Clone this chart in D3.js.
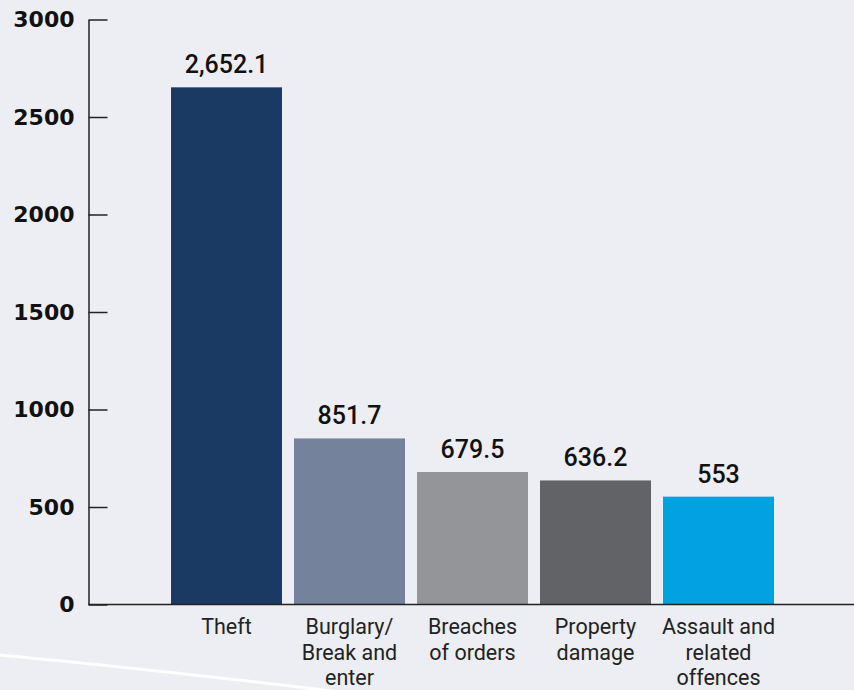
<!DOCTYPE html>
<html>
<head>
<meta charset="utf-8">
<script src="https://cdn.jsdelivr.net/npm/d3@7"></script>
<style>
  html, body { margin: 0; padding: 0; background: #edeef3; }
  svg { display: block; }
</style>
</head>
<body>
<svg id="chart" width="854" height="690"></svg>
<script>
const categories = ["Theft", "Burglary/\nBreak and\nenter", "Breaches\nof orders", "Property\ndamage", "Assault and\nrelated\noffences"];
const values = [2652.1, 851.7, 679.5, 636.2, 553];
const valueLabels = ["2,652.1", "851.7", "679.5", "636.2", "553"];
const colors = ["#1b3a63", "#74829b", "#939598", "#626366", "#00a3e0"];
const yTicks = [0, 500, 1000, 1500, 2000, 2500, 3000];

const svg = d3.select("#chart");
const W = 854, H = 690;

// decorative white curve
svg.append("path")
  .attr("d", "M-10,654 Q160,670 340,692")
  .attr("fill", "none")
  .attr("stroke", "#ffffff")
  .attr("stroke-width", 3);

const axisX = 88.5;
const y = d3.scaleLinear().domain([0, 3000]).range([604.5, 19.5]);
const x = d3.scaleBand().domain(d3.range(categories.length))
  .range([165, 780]).paddingInner(12 / 123).paddingOuter(6 / 123);

// bars
svg.append("g").selectAll("rect").data(values).join("rect")
  .attr("x", (d, i) => x(i))
  .attr("width", x.bandwidth())
  .attr("y", d => y(d))
  .attr("height", d => y(0) - y(d))
  .attr("fill", (d, i) => colors[i]);

// value labels
svg.append("g").selectAll("text").data(values).join("text")
  .attr("x", (d, i) => x(i) + x.bandwidth() / 2)
  .attr("y", d => y(d) - 14)
  .attr("text-anchor", "middle")
  .attr("font-family", "Roboto, 'Liberation Sans', sans-serif")
  .attr("font-weight", 500)
  .attr("font-size", 25)
  .attr("fill", "#111")
  .text((d, i) => valueLabels[i]);

// y axis
const yAxis = d3.axisLeft(y).tickValues(yTicks).tickSizeInner(-19).tickSizeOuter(0).tickPadding(14)
  .tickFormat(d3.format("d"));
const gy = svg.append("g").attr("transform", `translate(${axisX},0)`).call(yAxis);
gy.select(".domain").attr("stroke", "#222").attr("stroke-width", 1.5);
gy.selectAll(".tick line").attr("stroke", "#222").attr("stroke-width", 1.5);
gy.selectAll(".tick text")
  .attr("font-family", "'DejaVu Sans', sans-serif")
  .attr("font-weight", "bold")
  .attr("font-size", 22)
  .attr("fill", "#111");

// x axis baseline
svg.append("line")
  .attr("x1", axisX).attr("x2", W)
  .attr("y1", y(0)).attr("y2", y(0))
  .attr("stroke", "#222").attr("stroke-width", 1.5);

// category labels
const cl = svg.append("g").selectAll("text").data(categories).join("text")
  .attr("x", (d, i) => x(i) + x.bandwidth() / 2)
  .attr("y", 634)
  .attr("text-anchor", "middle")
  .attr("font-family", "Roboto, sans-serif")
  .attr("font-size", 21.5)
  .attr("fill", "#222");
cl.each(function(d) {
  const t = d3.select(this);
  d.split("\n").forEach((line, k) => {
    t.append("tspan").attr("x", t.attr("x")).attr("dy", k === 0 ? 0 : 25.5).text(line);
  });
});
</script>
</body>
</html>
